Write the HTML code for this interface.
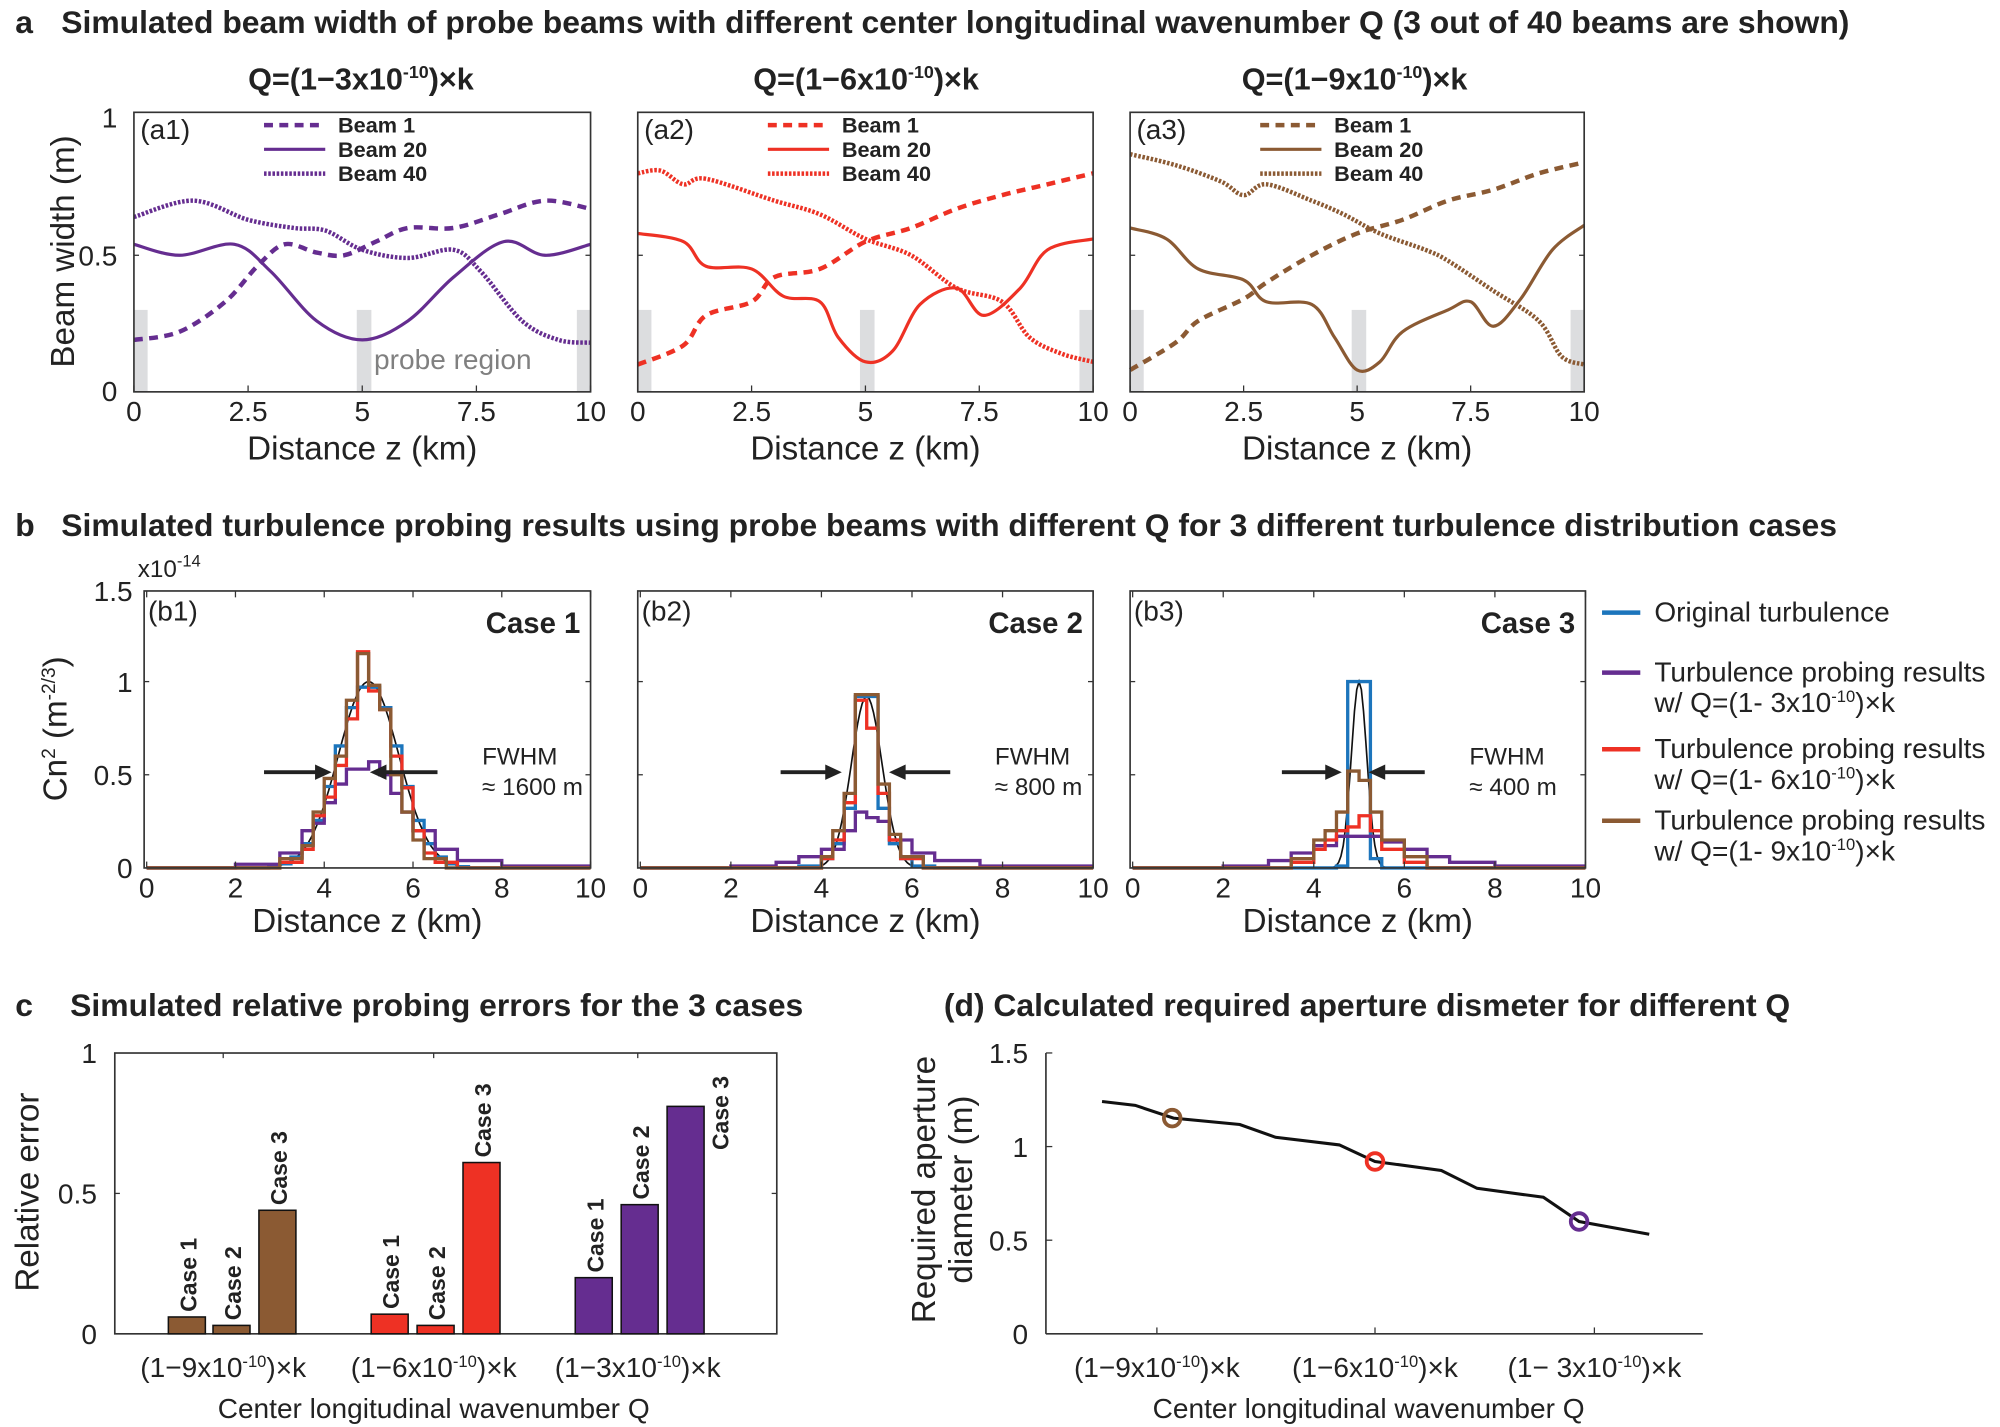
<!DOCTYPE html>
<html><head><meta charset="utf-8"><style>
html,body{margin:0;padding:0;background:#fff;}
svg{display:block;font-family:"Liberation Sans",Arial,sans-serif;}
.t{font-size:25px;font-weight:bold;fill:#222}
.q{font-size:24px;font-weight:bold;fill:#222}
.tk{font-size:22px;fill:#222}
.al{font-size:26px;fill:#222}
.lg{font-size:17px;font-weight:bold;fill:#222}
.bl{font-size:18px;font-weight:bold;fill:#222}
</style></head><body>
<svg id="s" width="2000" height="1427" viewBox="0 0 1568 1118" preserveAspectRatio="none" xmlns="http://www.w3.org/2000/svg">
<rect width="1568" height="1118" fill="#fff"/>
<text x="12" y="26" class="t">a</text>
<text x="48" y="26" class="t">Simulated beam width of probe beams with different center longitudinal wavenumber Q (3 out of 40 beams are shown)</text>
<text x="283" y="70" class="q" text-anchor="middle">Q=(1−3x10<tspan dy="-9" font-size="14">-10</tspan><tspan dy="9">)×k</tspan></text>
<text x="679" y="70" class="q" text-anchor="middle">Q=(1−6x10<tspan dy="-9" font-size="14">-10</tspan><tspan dy="9">)×k</tspan></text>
<text x="1062" y="70" class="q" text-anchor="middle">Q=(1−9x10<tspan dy="-9" font-size="14">-10</tspan><tspan dy="9">)×k</tspan></text>
<text transform="translate(58,197) rotate(-90)" class="al" text-anchor="middle">Beam width (m)</text>
<text x="12" y="420" class="t">b</text>
<text x="48" y="420" class="t">Simulated turbulence probing results using probe beams with different Q for 3 different turbulence distribution cases</text>
<text x="108" y="452" font-size="19" fill="#222">x10<tspan dy="-8" font-size="13">-14</tspan></text>
<text transform="translate(52,571) rotate(-90)" class="al" text-anchor="middle">Cn<tspan dy="-9" font-size="15">2</tspan><tspan dy="9"> (m</tspan><tspan dy="-9" font-size="15">-2/3</tspan><tspan dy="9">)</tspan></text>
<text x="12" y="796" class="t">c</text>
<text x="55" y="796" class="t">Simulated relative probing errors for the 3 cases</text>
<text x="740" y="796" class="t">(d) Calculated required aperture dismeter for different Q</text>
<text transform="translate(30,934) rotate(-90)" class="al" text-anchor="middle">Relative error</text>
<text transform="translate(733,932) rotate(-90)" class="al" text-anchor="middle">Required aperture</text>
<text transform="translate(762,932) rotate(-90)" class="al" text-anchor="middle">diameter (m)</text>
<text x="340" y="1111" class="tk" text-anchor="middle">Center longitudinal wavenumber Q</text>
<text x="1073" y="1111" class="tk" text-anchor="middle">Center longitudinal wavenumber Q</text>
<g id="g"></g>
</svg>
<script>
var g=document.getElementById('g'),h='';
function T(x,y,s,c,a){h+='<text x="'+x+'" y="'+y+'" class="'+(c||'tk')+'" text-anchor="'+(a||'middle')+'">'+s+'</text>';}
function sup(b,e,t){return b+'<tspan dy="-8" font-size="13">'+e+'</tspan><tspan dy="8">'+t+'</tspan>';}
var P='#652d90',R='#ee3124',B='#8b5a33',BL='#1c75bc';
function smooth(p){var d='M'+p[0][0].toFixed(1)+' '+p[0][1].toFixed(1);for(var i=0;i<p.length-1;i++){var p0=p[Math.max(i-1,0)],p1=p[i],p2=p[i+1],p3=p[Math.min(i+2,p.length-1)];d+=' C'+(p1[0]+(p2[0]-p0[0])/6).toFixed(1)+' '+(p1[1]+(p2[1]-p0[1])/6).toFixed(1)+' '+(p2[0]-(p3[0]-p1[0])/6).toFixed(1)+' '+(p2[1]-(p3[1]-p1[1])/6).toFixed(1)+' '+p2[0].toFixed(1)+' '+p2[1].toFixed(1);}return d;}
var A=[[105,463],[500,857],[886,1242]];
function ay(v){return 307-v*214;}
var curves=[
[P,[[0,.19],[1,.22],[2,.33],[2.7,.46],[3.3,.54],[4,.51],[4.6,.5],[5.3,.55],[6,.6],[7,.6],[8,.65],[9,.7],[10,.67]],
[[0,.54],[1,.5],[2.2,.54],[3,.44],[4,.26],[5,.19],[6,.26],[7,.42],[8.1,.55],[9,.5],[10,.54]],
[[0,.64],[1.3,.7],[2.5,.63],[3.5,.6],[4.2,.59],[5,.52],[6,.49],[7,.52],[7.6,.44],[8.5,.26],[9.3,.19],[10,.18]]],
[R,[[0,.1],[1,.17],[1.5,.28],[2.5,.33],[3,.42],[4,.45],[5,.55],[6,.6],[7,.67],[8,.72],[9,.76],[10,.8]],
[[0,.58],[1,.55],[1.5,.46],[2.5,.45],[3.2,.35],[4,.33],[4.4,.2],[5,.11],[5.6,.15],[6.2,.32],[7,.38],[7.6,.28],[8.4,.38],[9,.52],[10,.56]],
[[0,.8],[.5,.81],[1,.76],[1.5,.78],[3,.7],[4,.65],[5,.56],[6,.5],[7,.38],[8,.33],[8.6,.2],[9.3,.14],[10,.11]]],
[B,[[0,.08],[1,.18],[1.5,.26],[2.5,.34],[3,.4],[4,.5],[5,.58],[6,.63],[7,.7],[8,.74],[9,.8],[10,.84]],
[[0,.6],[.8,.56],[1.5,.45],[2.5,.41],[3,.33],[4,.32],[4.5,.2],[5,.08],[5.5,.11],[6,.22],[7,.3],[7.5,.33],[8,.24],[8.6,.34],[9.3,.52],[10,.61]],
[[0,.87],[1,.83],[2,.77],[2.5,.72],[3,.76],[4,.7],[4.7,.65],[5.5,.58],[6.5,.52],[7,.48],[8,.37],[9,.26],[9.5,.13],[10,.1]]]];
A.forEach(function(a,k){
 var x0=a[0],x1=a[1],sx=(x1-x0)/10;function X(z){return x0+z*sx;}
 [[0,.3],[4.88,5.2],[9.7,10]].forEach(function(r){h+='<rect x="'+X(r[0])+'" y="'+ay(.3)+'" width="'+(r[1]-r[0])*sx+'" height="'+(.3*214)+'" fill="#dcdddf"/>';});
 var c=curves[k];
 var st=[['7,5',3.5],['',2.5],['2,1.3',3.5]];
 for(var i=0;i<3;i++){h+='<path d="'+smooth(c[i+1].map(function(p){return[X(p[0]),ay(p[1])];}))+'" fill="none" stroke="'+c[0]+'" stroke-width="'+st[i][1]+'"'+(st[i][0]?' stroke-dasharray="'+st[i][0]+'"':'')+'/>';}
 h+='<rect x="'+x0+'" y="88" width="'+(x1-x0)+'" height="219" fill="none" stroke="#333" stroke-width="1.3"/>';
 ['0','2.5','5','7.5','10'].forEach(function(s,j){var x=X(j*2.5);h+='<line x1="'+x+'" x2="'+x+'" y1="307" y2="302" stroke="#333"/>';T(x,330,s);});
 h+='<line x1="'+x0+'" x2="'+(x0+4)+'" y1="200" y2="200" stroke="#333"/><line x1="'+x1+'" x2="'+(x1-4)+'" y1="200" y2="200" stroke="#333"/>';
 T(x0+5,109,'(a'+(k+1)+')','tk','start');
 var lx=x0+102;[['7,5',3.5],['',2.5],['2,1.3',3.5]].forEach(function(s,j){var y=98+j*19;h+='<line x1="'+lx+'" x2="'+(lx+48)+'" y1="'+y+'" y2="'+y+'" stroke="'+c[0]+'" stroke-width="'+s[1]+'"'+(s[0]?' stroke-dasharray="'+s[0]+'"':'')+'/>';T(lx+58,104+j*19,['Beam 1','Beam 20','Beam 40'][j],'lg','start');});
 T((x0+x1)/2,360,'Distance z (km)','al');
});
T(92,100,'1','tk','end');T(92,208,'0.5','tk','end');T(92,314,'0','tk','end');
T(355,289,'probe region','tk','middle');h=h.replace('>probe region<',' fill="#808080" style="fill:#808080">probe region<');
var Bp=[[113,463],[500,857],[886,1243]];
function by(v){return 680-v*146;}
var hist=[
{b:'H2.75 V.007 H3 V.022 H3.25 V.058 H3.5 V.13 H3.75 V.255 H4 V.437 H4.25 V.655 H4.5 V.86 H4.75 V.97 H5.25 V.86 H5.5 V.655 H5.75 V.437 H6 V.255 H6.25 V.13 H6.5 V.058 H6.75 V.022 H7 V.007 H7.25 V0 H10',
 r:'H3 V.03 H3.5 V.1 H3.75 V.28 H4 V.38 H4.25 V.55 H4.5 V.8 H4.75 V1.16 H5 V.95 H5.25 V.85 H5.5 V.6 H5.75 V.43 H6 V.2 H6.25 V.08 H6.5 V.03 H7 V0 H10',
 n:'H3 V.05 H3.5 V.12 H3.75 V.3 H4 V.48 H4.25 V.6 H4.5 V.9 H4.75 V1.15 H5 V.98 H5.25 V.85 H5.5 V.5 H5.75 V.3 H6 V.15 H6.25 V.05 H6.75 V0 H10',
 p:'H2 V.02 H3 V.08 H3.5 V.2 H3.75 V.24 H4 V.35 H4.25 V.45 H4.5 V.53 H5 V.57 H5.25 V.5 H5.5 V.4 H5.75 V.3 H6 V.2 H6.5 V.1 H7 V.04 H8 V.01 H10',s:.68,ar:[207,260,343,290],tx:'≈ 1600 m'},
{b:'H3.5 V.01 H4 V.05 H4.25 V.13 H4.5 V.32 H4.75 V.92 H5.25 V.32 H5.5 V.13 H5.75 V.05 H6 V.01 H6.5 V0 H10',
 r:'H4 V.05 H4.25 V.15 H4.5 V.35 H4.75 V.9 H5 V.75 H5.25 V.4 H5.5 V.15 H5.75 V.05 H6.25 V0 H10',
 n:'H4 V.06 H4.25 V.2 H4.5 V.4 H4.75 V.93 H5.25 V.45 H5.5 V.18 H5.75 V.06 H6.25 V0 H10',
 p:'H2 V.01 H3 V.03 H3.5 V.06 H4 V.1 H4.5 V.2 H4.75 V.3 H5 V.27 H5.25 V.25 H5.5 V.15 H6 V.08 H6.5 V.04 H7.5 V.01 H10',s:.34,ar:[612,660,745,697],tx:'≈ 800 m'},
{b:'H4.5 V.01 H4.75 V1 H5.25 V.05 H5.5 V0 H10',
 r:'H3.5 V.03 H4 V.1 H4.25 V.15 H4.5 V.2 H4.75 V.22 H5 V.28 H5.25 V.2 H5.5 V.1 H6 V.03 H6.5 V0 H10',
 n:'H3.5 V.05 H4 V.15 H4.25 V.2 H4.5 V.3 H4.75 V.52 H5 V.47 H5.25 V.3 H5.5 V.15 H6 V.06 H6.5 V0 H10',
 p:'H2 V.01 H3 V.04 H3.5 V.08 H4 V.12 H4.5 V.17 H5 V.17 H5.5 V.14 H6 V.1 H6.5 V.06 H7 V.03 H8 V.01 H10',s:.17,ar:[1005,1052,1117,1073],tx:'≈ 400 m'}];
function stepPath(s,X){var t=s.trim().split(/\s+/),d='M'+X(0)+' '+by(0);t.forEach(function(q){var v=parseFloat(q.slice(1));if(q[0]=='H'){d+=' H'+X(v).toFixed(1);}else{d+=' V'+by(v).toFixed(1);}});return d;}
Bp.forEach(function(a,k){
 var x0=a[0],x1=a[1];var X0=x0+2,sx=(x1-X0)/10;function X(z){return X0+z*sx;}
 var H=hist[k];
 var gp=[];for(var z=0;z<=10.001;z+=0.05){gp.push(X(z).toFixed(1)+','+by(Math.exp(-Math.pow(z-5,2)/(2*H.s*H.s))*(k==1?.92:1)).toFixed(1));}
 h+='<polyline points="'+gp.join(' ')+'" fill="none" stroke="#111" stroke-width="1.3"/>';
 h+='<path d="'+stepPath(H.b,X)+'" fill="none" stroke="'+BL+'" stroke-width="2.6"/>';
 h+='<path d="'+stepPath(H.p,X)+'" fill="none" stroke="'+P+'" stroke-width="2.6"/>';
 h+='<path d="'+stepPath(H.r,X)+'" fill="none" stroke="'+R+'" stroke-width="2.6"/>';
 h+='<path d="'+stepPath(H.n,X)+'" fill="none" stroke="'+B+'" stroke-width="2.6"/>';
 h+='<rect x="'+x0+'" y="463" width="'+(x1-x0)+'" height="217" fill="none" stroke="#333" stroke-width="1.3"/>';
 for(var j=0;j<=5;j++){var x=X(j*2);h+='<line x1="'+x+'" x2="'+x+'" y1="680" y2="675" stroke="#333"/><line x1="'+x+'" x2="'+x+'" y1="463" y2="468" stroke="#333"/>';T(x,703,''+j*2);}
 [534,607].forEach(function(y){h+='<line x1="'+x0+'" x2="'+(x0+4)+'" y1="'+y+'" y2="'+y+'" stroke="#333"/><line x1="'+x1+'" x2="'+(x1-4)+'" y1="'+y+'" y2="'+y+'" stroke="#333"/>';});
 T(x0+3,486,'(b'+(k+1)+')','tk','start');
 T(x1-8,496,'Case '+(k+1),'t','end');h=h.replace(/>Case (\d)<\/text>$/,' style="font-size:23px">Case $1</text>');
 var ar=H.ar;
 h+='<line x1="'+ar[0]+'" x2="'+(ar[1]-10)+'" y1="605" y2="605" stroke="#222" stroke-width="3"/><polygon points="'+ar[1]+',605 '+(ar[1]-13)+',599 '+(ar[1]-13)+',611" fill="#222"/>';
 h+='<line x1="'+ar[2]+'" x2="'+(ar[3]+10)+'" y1="605" y2="605" stroke="#222" stroke-width="3"/><polygon points="'+ar[3]+',605 '+(ar[3]+13)+',599 '+(ar[3]+13)+',611" fill="#222"/>';
 T(ar[2]+35,599,'FWHM','tk','start');T(ar[2]+35,623,H.tx,'tk','start');
 T((x0+x1)/2,730,'Distance z (km)','al');
});
h=h.replace(/class="tk" text-anchor="start">(FWHM|≈[^<]*)</g,'class="tk" text-anchor="start" style="font-size:19px">$1<');
T(104,471,'1.5','tk','end');T(104,542,'1','tk','end');T(104,615,'0.5','tk','end');T(104,688,'0','tk','end');
[[BL,480,['Original turbulence']],[P,527,['Turbulence probing results',sup('w/ Q=(1- 3x10','-10',')×k')]],[R,587,['Turbulence probing results',sup('w/ Q=(1- 6x10','-10',')×k')]],[B,643,['Turbulence probing results',sup('w/ Q=(1- 9x10','-10',')×k')]]].forEach(function(l){
 h+='<line x1="1256" x2="1286" y1="'+l[1]+'" y2="'+l[1]+'" stroke="'+l[0]+'" stroke-width="3.5"/>';
 l[2].forEach(function(s,i){T(1297,l[1]+7+i*24,s,'tk','start');});
});
function cy(v){return 1045-v*220;}
h+='<rect x="90" y="825" width="519" height="220" fill="none" stroke="#333" stroke-width="1.3"/>';
[935].forEach(function(y){h+='<line x1="90" x2="94" y1="'+y+'" y2="'+y+'" stroke="#333"/><line x1="609" x2="605" y1="'+y+'" y2="'+y+'" stroke="#333"/>';});
[[175],[340],[500]].forEach(function(q){h+='<line x1="'+q[0]+'" x2="'+q[0]+'" y1="825" y2="829" stroke="#333"/><line x1="'+q[0]+'" x2="'+q[0]+'" y1="1045" y2="1041" stroke="#333"/>';});
T(76,833,'1','tk','end');T(76,943,'0.5','tk','end');T(76,1053,'0','tk','end');
var bars=[[132,.06,B],[167,.03,B],[203,.44,B],[291,.07,R],[327,.03,R],[363,.61,R],[451,.2,P],[487,.46,P],[523,.81,P]];
bars.forEach(function(b,i){h+='<rect x="'+b[0]+'" y="'+cy(b[1])+'" width="29" height="'+(b[1]*220)+'" fill="'+b[2]+'" stroke="#111" stroke-width="1.2"/>';
 var lab='Case '+(i%3+1);
 if(i==8){h+='<text transform="translate('+(b[0]+48)+',843) rotate(-90)" class="bl" text-anchor="end">'+lab+'</text>';}
 else{h+='<text transform="translate('+(b[0]+22)+','+(cy(b[1])-4)+') rotate(-90)" class="bl" text-anchor="start">'+lab+'</text>';}});
[[175,'9'],[340,'6'],[500,'3']].forEach(function(q){T(q[0],1079,sup('(1−'+q[1]+'x10','-10',')×k'));});
function dy(v){return 1045-v*146.7;}
h+='<line x1="820" x2="820" y1="825" y2="1045" stroke="#333" stroke-width="1.3"/><line x1="820" x2="1335" y1="1045" y2="1045" stroke="#333" stroke-width="1.3"/>';
[[0,'0'],[.5,'0.5'],[1,'1'],[1.5,'1.5']].forEach(function(t){var y=dy(t[0]);h+='<line x1="820" x2="825" y1="'+y+'" y2="'+y+'" stroke="#333"/>';T(806,y+8,t[1],'tk','end');});
[[907,'9'],[1078,'6'],[1250,' 3']].forEach(function(q){h+='<line x1="'+q[0]+'" x2="'+q[0]+'" y1="1045" y2="1040" stroke="#333"/>';T(q[0],1079,sup('(1−'+q[1]+'x10','-10',')×k'));});
var lp=[[864,863],[890,866],[920,876],[972,881],[1000,891],[1050,897],[1078,910],[1130,917],[1158,931],[1210,938],[1238,957],[1293,967]];
h+='<polyline points="'+lp.map(function(p){return p.join(',');}).join(' ')+'" fill="none" stroke="#111" stroke-width="2.4"/>';
[[919,876,B],[1078,910,R],[1238,957,P]].forEach(function(c){h+='<circle cx="'+c[0]+'" cy="'+c[1]+'" r="6.5" fill="none" stroke="'+c[2]+'" stroke-width="3"/>';});
g.innerHTML=h;
</script>
</body></html>
